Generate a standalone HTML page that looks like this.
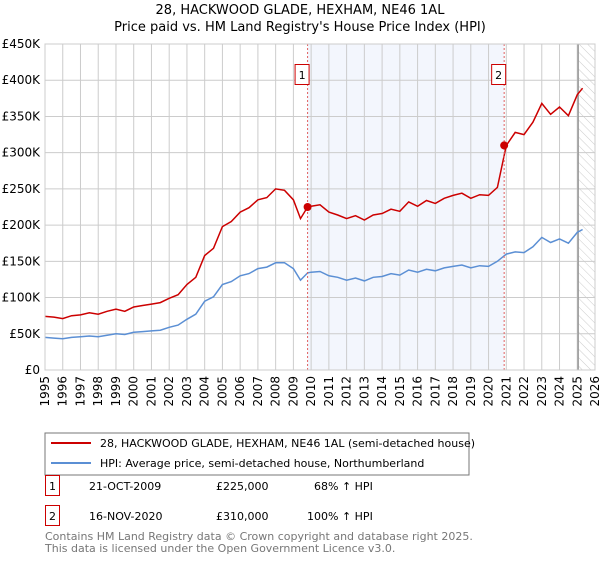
<!DOCTYPE html>
<html><head><meta charset="utf-8"><style>
body{margin:0;background:#fff;font-family:"Liberation Sans","DejaVu Sans",sans-serif}
svg text{font-family:"DejaVu Sans","Liberation Sans",sans-serif}
</style></head><body>
<svg id="c" width="600" height="560" xmlns="http://www.w3.org/2000/svg">
<defs><pattern id="hatch" width="6" height="6" patternUnits="userSpaceOnUse" patternTransform="rotate(-45)"><line x1="0" y1="0" x2="0" y2="6" stroke="#ccc" stroke-width="1"/></pattern></defs>
<text x="300" y="14" text-anchor="middle" font-size="13">28, HACKWOOD GLADE, HEXHAM, NE46 1AL</text>
<text x="300" y="31" text-anchor="middle" font-size="13">Price paid vs. HM Land Registry's House Price Index (HPI)</text>
<g id="grid"></g><g id="series"></g><g id="axes"></g>
<rect x="45" y="433" width="424" height="42" fill="#fff" stroke="#777"/>
<line x1="51" y1="443" x2="91" y2="443" stroke="#cc0000" stroke-width="2"/>
<text x="100" y="447" font-size="11">28, HACKWOOD GLADE, HEXHAM, NE46 1AL (semi-detached house)</text>
<line x1="51" y1="463" x2="91" y2="463" stroke="#5b8fd4" stroke-width="2"/>
<text x="100" y="467" font-size="11">HPI: Average price, semi-detached house, Northumberland</text>
<g font-size="11">
<rect x="45.5" y="475.5" width="14" height="20" fill="none" stroke="#cc0000"/>
<text x="52.5" y="490" text-anchor="middle">1</text>
<text x="89" y="490">21-OCT-2009</text><text x="216" y="490">£225,000</text><text x="314" y="490">68% ↑ HPI</text>
<rect x="45.5" y="505.5" width="14" height="20" fill="none" stroke="#cc0000"/>
<text x="52.5" y="520" text-anchor="middle">2</text>
<text x="89" y="520">16-NOV-2020</text><text x="216" y="520">£310,000</text><text x="307" y="520">100% ↑ HPI</text>
</g>
<text x="45" y="540" font-size="11" fill="#777">Contains HM Land Registry data © Crown copyright and database right 2025.</text>
<text x="45" y="552" font-size="11" fill="#777">This data is licensed under the Open Government Licence v3.0.</text>
</svg>
<script>
const yTicks=[0,50,100,150,200,250,300,350,400,450];
const yTickLabels=["£0","£50K","£100K","£150K","£200K","£250K","£300K","£350K","£400K","£450K"];
const xYears=[1995,1996,1997,1998,1999,2000,2001,2002,2003,2004,2005,2006,2007,2008,2009,2010,2011,2012,2013,2014,2015,2016,2017,2018,2019,2020,2021,2022,2023,2024,2025,2026];
const hpiT=[1995,1995.5,1996,1996.5,1997,1997.5,1998,1998.5,1999,1999.5,2000,2000.5,2001,2001.5,2002,2002.5,2003,2003.5,2004,2004.5,2005,2005.5,2006,2006.5,2007,2007.5,2008,2008.5,2009,2009.4,2009.8,2010,2010.5,2011,2011.5,2012,2012.5,2013,2013.5,2014,2014.5,2015,2015.5,2016,2016.5,2017,2017.5,2018,2018.5,2019,2019.5,2020,2020.5,2021,2021.5,2022,2022.5,2023,2023.5,2024,2024.5,2025,2025.3];
const hpiV=[45,44,43,45,46,47,46,48,50,49,52,53,54,55,59,62,70,77,95,101,118,122,130,133,140,142,148,148,140,124,134,135,136,130,128,124,127,123,128,129,133,131,138,135,139,137,141,143,145,141,144,143,150,160,163,162,170,183,176,181,175,190,194];
const propV=[74,73,71,75,76,79,77,81,84,81,87,89,91,93,99,104,118,128,158,168,198,205,218,224,235,238,250,248,235,209,225,226,228,218,214,209,213,207,214,216,222,219,232,226,234,230,237,241,244,237,242,241,252,310,328,325,342,368,353,363,351,380,389];
const sales=[{t:2009.8,v:225,label:"1"},{t:2020.88,v:310,label:"2"}];
const X0=45,X1=595,Y0=370,Y1=44;
const xs=t=>X0+(t-1995)*(X1-X0)/31, ys=v=>Y0-v*(Y0-Y1)/450;
const NS="http://www.w3.org/2000/svg";
function mk(tag,a,p){const e=document.createElementNS(NS,tag);for(const k in a)e.setAttribute(k,a[k]);p.appendChild(e);return e;}
const g=document.getElementById('grid'),s=document.getElementById('series'),ax=document.getElementById('axes');
let sh=mk('rect',{x:xs(sales[0].t),y:Y1,width:xs(sales[1].t)-xs(sales[0].t),height:Y0-Y1,fill:'#eef2fc',opacity:0.7},g);


let ht=mk('rect',{x:xs(2025.05),y:Y1,width:X1-xs(2025.05),height:Y0-Y1,fill:'url(#hatch)'},g);


yTicks.forEach((v,i)=>{
 const l=mk('line',{x1:X0,x2:X1,y1:ys(v),y2:ys(v),stroke:'#ccc'},g);
 
 
 const t=mk('text',{x:X0-5,y:ys(v)+4,'text-anchor':'end','font-size':12},ax);t.textContent=yTickLabels[i];
 
 
});
xYears.forEach(y=>{
 const l=mk('line',{x1:xs(y),x2:xs(y),y1:Y1,y2:Y0,stroke:'#ccc'},g);
 
 
 const t=mk('text',{x:0,y:0,'text-anchor':'end','font-size':12,transform:`translate(${xs(y)+4},${Y0+6}) rotate(-90)`},ax);t.textContent=y;
 
 
});
let vl=mk('line',{x1:xs(2025.05),x2:xs(2025.05),y1:Y1,y2:Y0,stroke:'#999','stroke-width':1.5},g);


const pts=v=>hpiT.map((t,i)=>xs(t).toFixed(1)+','+ys(v[i]).toFixed(1)).join(' ');
let hp=mk('polyline',{points:pts(hpiV),fill:'none',stroke:'#5b8fd4','stroke-width':1.5},s);


let pp=mk('polyline',{points:pts(propV),fill:'none',stroke:'#cc0000','stroke-width':1.5},s);


sales.forEach(d=>{
 const l=mk('line',{x1:xs(d.t),x2:xs(d.t),y1:Y1,y2:Y0,stroke:'#e06060','stroke-dasharray':'2,2'},s);
 
 
 const c=mk('circle',{cx:xs(d.t),cy:ys(d.v),r:4,fill:'#cc0000'},s);
 
 
 const r=mk('rect',{x:xs(d.t)-12.5,y:64.5,width:14,height:20,fill:'#fff',stroke:'#cc0000'},s);
 
 
 const t=mk('text',{x:xs(d.t)-5.5,y:79,'text-anchor':'middle','font-size':11},s);t.textContent=d.label;
 
 
});
let fr=mk('rect',{x:X0,y:Y1,width:X1-X0,height:Y0-Y1,fill:'none',stroke:'#ccc'},ax);


</script>
</body></html>
